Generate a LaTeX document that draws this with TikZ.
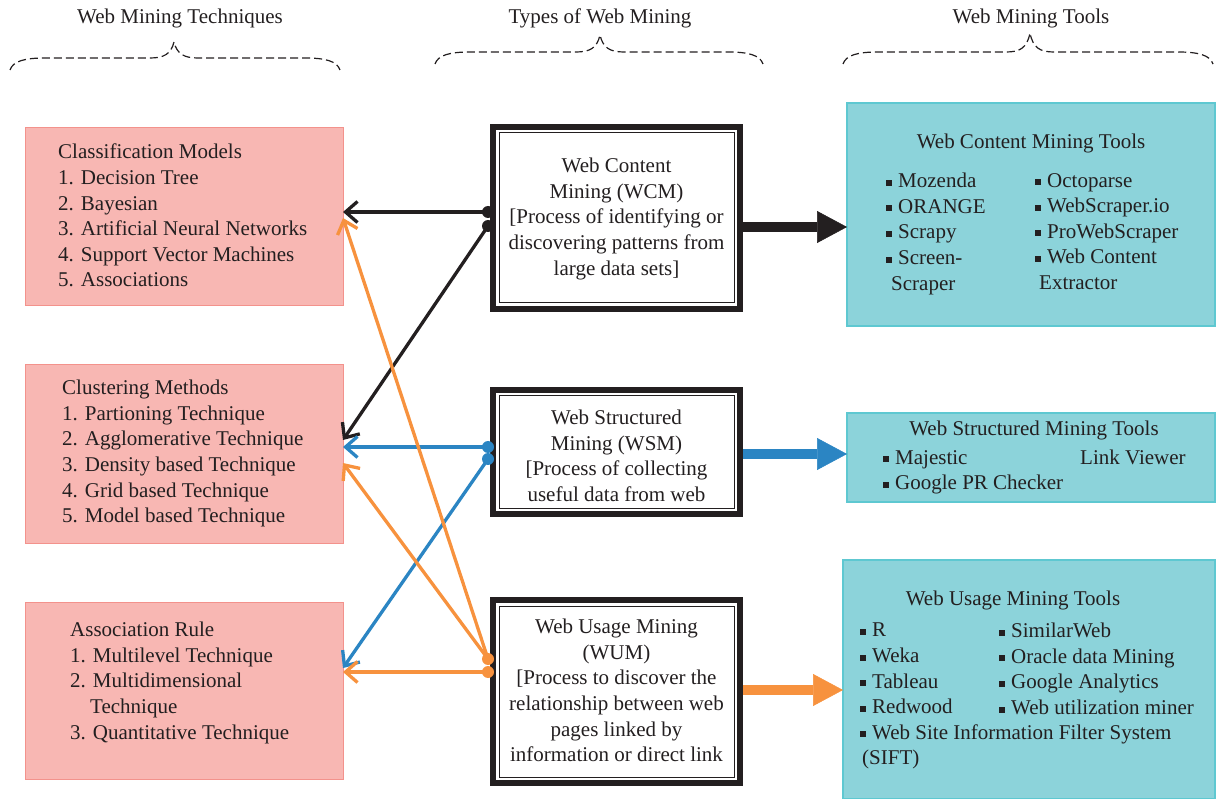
\documentclass[tikz,border=0pt]{standalone}
\usepackage{fontspec}
\setmainfont{Liberation Serif}
\usetikzlibrary{arrows.meta}
\definecolor{ink}{HTML}{231F20}
\definecolor{pinkfill}{HTML}{F8B7B3}
\definecolor{pinkline}{HTML}{F3928C}
\definecolor{tealfill}{HTML}{8CD3DA}
\definecolor{tealline}{HTML}{5EC8D1}
\definecolor{myblue}{HTML}{2B85C3}
\definecolor{myorange}{HTML}{F7923E}
\newcommand{\sqb}{\rule[2pt]{6pt}{6pt}\hspace{6pt}}
\newcommand{\dbrace}[6]{\draw[bracestyle] (#1,#5) .. controls (#1+3,#4+3) and (#1+15,#4) .. (#1+35,#4) -- (#3-24,#4) .. controls (#3-10,#4) and (#3-3,#4-4) .. (#3,#6) .. controls (#3+3,#4-4) and (#3+10,#4) .. (#3+24,#4) -- (#2-35,#4) .. controls (#2-15,#4) and (#2-3,#4+3) .. (#2,#5);}
\begin{document}
\begin{tikzpicture}[x=1pt,y=-1pt,
  every node/.style={text=ink, font=\fontsize{21}{25.6}\selectfont},
  bracestyle/.style={draw=ink, line width=1.2pt, dash pattern=on 8pt off 4pt},
  pinkbox/.style={draw=pinkline, fill=pinkfill, line width=1pt, minimum width=318pt, inner sep=0pt, outer sep=0pt},
  typebox/.style={draw=ink, fill=white, line width=6pt, minimum width=247pt, inner sep=0pt, outer sep=3pt},
  tealbox/.style={draw=tealline, fill=tealfill, line width=1.2pt, inner sep=0pt, outer sep=0pt},
  txt/.style={anchor=north west, align=left, inner sep=0pt},
  ctxt/.style={anchor=north, align=center, inner sep=0pt},
  thin/.style={line width=3.3pt, -{Straight Barb[length=12pt,width=21pt]}},
  dot/.style={radius=6pt},
  thick/.style={line width=10pt, -{Triangle[length=30pt,width=32pt,line width=0.5pt]}}
]
\useasboundingbox (0,0) rectangle (1216,799);

% headers
\node[anchor=base] (h1) at (180,24) {Web Mining Techniques};
\node[anchor=base] (h2) at (600,24) {Types of Web Mining};
\node[anchor=base] (h3) at (1031,24) {Web Mining Tools};
\dbrace{10}{340}{174}{58}{70}{42}
\dbrace{435}{763}{600}{52}{64}{35}
\dbrace{843}{1213}{1030}{52}{64}{33}

% left boxes
\node[pinkbox, minimum height=178pt] (cm) at (184,217) {};
\node[pinkbox, minimum height=178pt] (clm) at (184,454) {};
\node[pinkbox, minimum height=177pt] (ar) at (184,690.5) {};
\node[txt] (cmt) at (58,144) {Classification Models\\1. Decision Tree\\2. Bayesian\\3. Artificial Neural Networks\\4. Support Vector Machines\\5. Associations};
\node[txt] (clmt) at (62,380) {Clustering Methods\\1. Partioning Technique\\2. Agglomerative Technique\\3. Density based Technique\\4. Grid based Technique\\5. Model based Technique};
\node[txt] (art) at (70,622) {Association Rule\\1. Multilevel Technique\\2. Multidimensional\\\hspace*{20pt}Technique\\3. Quantitative Technique};

% middle boxes
\node[typebox, minimum height=182pt] (wcm) at (616.5,218) {};
\node[typebox, minimum height=124pt] (wsm) at (616.5,452) {};
\node[typebox, minimum height=183pt] (wum) at (616.5,691.5) {};
\foreach \b in {wcm,wsm,wum}{
  \draw[draw=ink, line width=1pt] ([shift={(9,9)}]\b.north west) rectangle ([shift={(-9,-9)}]\b.south east);
}
\node[ctxt] (wcmt) at (616.5,158) {Web Content\\Mining (WCM)\\{[}Process of identifying or\\discovering patterns from\\large data sets{]}};
\node[ctxt] (wsmt) at (616.5,410) {Web Structured\\Mining (WSM)\\{[}Process of collecting\\useful data from web};
\node[ctxt] (wumt) at (616.5,619) {Web Usage Mining\\(WUM)\\{[}Process to discover the\\relationship between web\\pages linked by\\information or direct link};

% right boxes
\node[tealbox, minimum width=368pt, minimum height=223pt] (ct) at (1031,214.5) {};
\node[tealbox, minimum width=368pt, minimum height=89pt] (st) at (1031,457.5) {};
\node[tealbox, minimum width=372pt, minimum height=239pt] (ut) at (1029,679.5) {};
\node[anchor=base] (ctt) at (1031,149) {Web Content Mining Tools};
\node[txt] (ct1) at (886,173) {\sqb Mozenda\\\sqb ORANGE\\\sqb Scrapy\\\sqb Screen-\\\hspace*{5pt}Scraper};
\node[txt] (ct2) at (1035,173) {\sqb Octoparse\\\sqb WebScraper.io\\\sqb ProWebScraper\\\sqb Web Content\\\hspace*{4pt}Extractor};
\node[anchor=base] (stt) at (1034,436) {Web Structured Mining Tools};
\node[txt] (st1) at (883,450) {\sqb Majestic\\\sqb Google PR Checker};
\node[txt] (st2) at (1080,450) {Link Viewer};
\node[anchor=base] (utt) at (1013,605) {Web Usage Mining Tools};
\node[txt] (ut1) at (860,623) {\sqb R\\\sqb Weka\\\sqb Tableau\\\sqb Redwood\\\sqb Web Site Information Filter System\\\hspace*{2pt}(SIFT)};
\node[txt] (ut2) at (999,623) {\sqb SimilarWeb\\\sqb Oracle data Mining\\\sqb Google Analytics\\\sqb Web utilization miner};

% connector start points on the left sides of the type boxes
\coordinate (k1) at ([xshift=-2pt,yshift=6pt]wcm.west);
\coordinate (k2) at ([xshift=-2pt,yshift=-8pt]wcm.west);
\coordinate (b1) at ([xshift=-2pt,yshift=5pt]wsm.west);
\coordinate (b2) at ([xshift=-2pt,yshift=-7pt]wsm.west);
\coordinate (o1) at ([xshift=-2pt,yshift=32.5pt]wum.west);
\coordinate (o2) at ([xshift=-2pt,yshift=19.5pt]wum.west);

% connectors
\draw[thin, draw=ink] (k1) -- ([yshift=5pt]cm.east);
\draw[thin, draw=ink] (k2) -- ([yshift=14pt]clm.east);
\draw[thin, draw=myblue] (b1) -- ([yshift=7pt]clm.east);
\draw[thin, draw=myblue] (b2) -- ([yshift=22.5pt]ar.east);
\draw[thin, draw=myorange] (o1) -- ([yshift=-1pt]cm.east);
\draw[thin, draw=myorange] (o1) -- ([yshift=-9pt]clm.east);
\draw[thin, draw=myorange] (o2) -- ([yshift=18.5pt]ar.east);
\fill[ink] (k1) circle[dot] (k2) circle[dot];
\fill[myblue] (b1) circle[dot] (b2) circle[dot];
\fill[myorange] (o1) circle[dot] (o2) circle[dot];

\draw[thick, draw=ink] ([yshift=-9pt]wcm.east) -- ([yshift=-12.5pt]ct.west);
\draw[thick, draw=myblue] ([yshift=-2pt]wsm.east) -- ([yshift=3.5pt]st.west);
\draw[thick, draw=myorange] ([yshift=1.5pt]wum.east) -- ([yshift=-10.5pt]ut.west);
\end{tikzpicture}
\end{document}
